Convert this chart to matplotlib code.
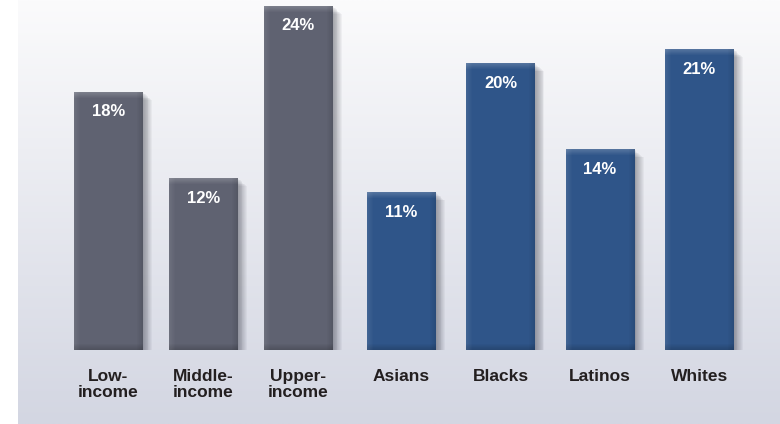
import numpy as np
import matplotlib.pyplot as plt
from matplotlib.colors import to_rgb

categories = ["Low-\nincome", "Middle-\nincome", "Upper-\nincome",
              "Asians", "Blacks", "Latinos", "Whites"]
values = [18, 12, 24, 11, 20, 14, 21]
groups = ["income", "income", "income", "race", "race", "race", "race"]

colors = {"income": "#5f6271", "race": "#2f5589"}

W, H = 780, 424
fig = plt.figure(figsize=(W / 100, H / 100), dpi=100)

# background panel with vertical gradient
bg = fig.add_axes([18 / W, 0, 1 - 18 / W, 1])
top = np.array(to_rgb("#fbfbfc"))
bot = np.array(to_rgb("#d3d6e2"))
t = np.linspace(0, 1, 256)[:, None]
grad = top * (1 - t) + bot * t
bg.imshow(grad[:, None, :].repeat(2, axis=1), aspect="auto",
          extent=(0, 1, 0, 1), origin="upper")
bg.set_axis_off()

# main axes: bottom at y=350px, 24% reaching y=6px
ax = fig.add_axes([0, (H - 350) / H, 1, 344 / H])
ax.patch.set_alpha(0)
unit = 95.0  # px per category step
x0 = 108.5   # px centre of first bar
ax.set_xlim(-x0 / unit, (W - x0) / unit)
ax.set_ylim(0, 24)
ax.set_axis_off()

px = 1 / unit
py = 24 / 344.0
width = 69 * px

# race group sits after a small gap and is spread a little wider
pos = []
for i, g in enumerate(groups):
    if g == "income":
        pos.append(float(i))
    else:
        pos.append(3.085 + (i - 3) * 1.045)
pos = np.array(pos)

# soft drop shadow
for k in range(1, 11):
    ax.bar(pos + k * px * 0.9, values, width=width,
           bottom=-k * py * 0.8, color="#20222e", alpha=0.045, zorder=1,
           linewidth=0)

bar_colors = [colors[g] for g in groups]
ax.bar(pos, values, width=width, color=bar_colors, zorder=2, linewidth=0)

# bevel: lighter top band and left edge, darker right and bottom edges
for k in range(6):
    a = 0.18 * (1 - k / 6)
    ax.bar(pos, py, width=width, bottom=np.array(values) - (k + 1) * py,
           color="white", alpha=a, zorder=3, linewidth=0)
    ax.bar(pos, py, width=width, bottom=k * py,
           color="black", alpha=a * 0.9, zorder=3, linewidth=0)
    ax.bar(pos - width / 2 + (k + 0.5) * px, values, width=px,
           color="white", alpha=a * 0.5, zorder=3, linewidth=0)
    ax.bar(pos + width / 2 - (k + 0.5) * px, values, width=px,
           color="black", alpha=a * 0.6, zorder=3, linewidth=0)

for x, v in zip(pos, values):
    ax.text(x, v - 20 * py, f"{v}%", ha="center", va="center",
            color="white", fontsize=12, fontweight="bold",
            family="Liberation Sans", zorder=5)

for x, c in zip(pos, categories):
    ax.text(x, -19 * py, c, ha="center", va="top", color="#231f20",
            fontsize=12.5, fontweight="bold", family="Liberation Sans",
            linespacing=1.1, clip_on=False)

fig.savefig("out.png", dpi=100)
